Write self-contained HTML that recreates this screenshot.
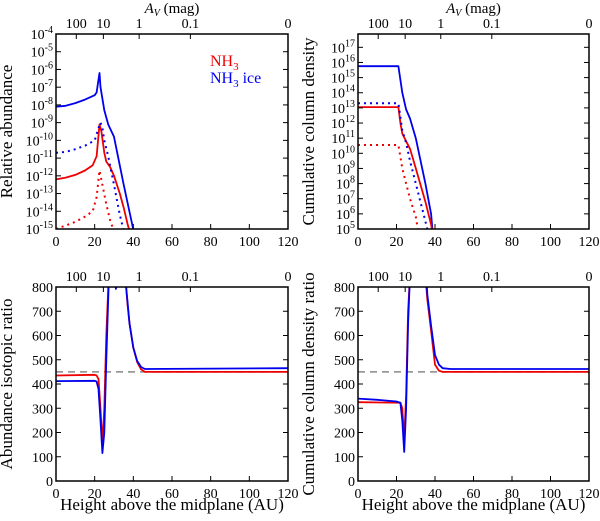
<!DOCTYPE html>
<html><head><meta charset="utf-8"><style>
body{margin:0;background:#fff}
svg{font-family:"Liberation Serif","DejaVu Serif",serif}
</style></head><body>
<svg id="c" width="600" height="516" viewBox="0 0 600 516" xmlns="http://www.w3.org/2000/svg"></svg>
<script>
const xTicks=[0,20,40,60,80,100,120];
const avLabels=["100","10","1","0.1","0"];
const avPos=[10.5,24.5,43,69.5,120];
// Panel A: relative abundance (log10)
const aBlueX=[0,5,10,15,20,21,22.5,23,25,27,30,35,40.5];
const aBlueY=[-8.1,-8.05,-7.9,-7.7,-7.45,-7.3,-6.2,-7.0,-8.3,-9.1,-9.8,-12.5,-15.3];
const aRedX=[0,5,10,15,19,21,22.5,23.5,25,26,28,30,33,35,37,38.5];
const aRedY=[-12.2,-12.1,-11.95,-11.7,-11.4,-10.9,-9.1,-9.5,-10.7,-11.2,-11.5,-12,-13,-13.8,-14.7,-15.3];
const aBlueDX=[0,5,10,15,20,22,23,24,25,27,30,33,35.5];
const aBlueDY=[-10.7,-10.65,-10.5,-10.3,-10.0,-9.3,-9.0,-9.3,-10.0,-10.9,-12.5,-14.2,-15.3];
const aRedDX=[0,5,10,15,19,21,22.5,24,26,28,30.5];
const aRedDY=[-15,-14.8,-14.6,-14.3,-14.0,-13.2,-11.7,-12.5,-13.6,-14.5,-15.3];
// Panel B: cumulative column density (log10)
const bBlueX=[0,21,23,25,27,30,35,38,38.7];
const bBlueY=[15.75,15.75,14.0,12.9,12.3,11.0,8.0,6.0,4.9];
const bRedX=[0,21,22,23,25,27,30,35,38,38.5];
const bRedY=[13.05,13.05,12.0,11.3,10.8,10.3,9.0,6.8,5.3,4.9];
const bBlueDX=[0,21,23,25,27,30,35,36.2];
const bBlueDY=[13.3,13.3,11.5,10.7,9.5,8,5.5,4.9];
const bRedDX=[0,21,23,25,27,30,31.2];
const bRedDY=[10.55,10.55,9,8,7,5.8,4.9];
// Panel C: abundance isotopic ratio
const cRedX=[0,20,21,22,23,24,25,26,27.2,36,37,38,40,42,44,46,120];
const cRedY=[435,438,435,420,300,150,300,600,830,830,730,650,550,490,460,450,450];
const cBlueX=[0,20,21,22,23,24,25,26,27.3,30.5,31,31.5,35.8,36,37,38,40,42,44,46,120];
const cBlueY=[412,413,410,380,250,115,200,500,830,830,792,830,830,820,740,650,550,495,470,462,465];
// Panel D: cumulative column density ratio
const dRedX=[0,22,23,24,25,26,27,35,36,38,40,42,44,120];
const dRedY=[325,323,300,170,350,700,850,850,750,620,480,455,450,450];
const dBlueX=[0,10,20,22,23,24,25,26,27,35.5,36,38,40,42,44,48,120];
const dBlueY=[340,335,328,322,250,120,300,650,850,850,770,640,520,480,465,462,462];
const refRatio=[450];

const NS="http://www.w3.org/2000/svg";
const svg=document.getElementById('c');
function el(tag,attrs,parent){const e=document.createElementNS(NS,tag);for(const k in attrs)e.setAttribute(k,attrs[k]);(parent||svg).appendChild(e);return e;}

function panel(o){
  const g=el('g',{});
  
  
  const X=v=>o.x0+(v-0)/120*(o.x1-o.x0);
  const Y=v=>o.yb+(v-o.ymin)/(o.ymax-o.ymin)*(o.yt-o.yb);
  const cid='clip-'+o.name;
  const cp=el('clipPath',{id:cid},g);
  el('rect',{x:o.x0,y:o.yt,width:o.x1-o.x0,height:o.yb-o.yt},cp);
  const pg=el('g',{'clip-path':'url(#'+cid+')'},g);
  if(o.ref!==undefined){
    const r=el('line',{x1:X(0),x2:X(120),y1:Y(o.ref),y2:Y(o.ref),stroke:'#888','stroke-width':1.5,'stroke-dasharray':'7,5'},pg);
    
    
  }
  o.series.forEach(s=>{
    const d=s.x.map((v,i)=>(i?'L':'M')+X(v).toFixed(1)+','+Y(s.y[i]).toFixed(1)).join('');
    const p=el('path',{d:d,fill:'none',stroke:s.c,'stroke-width':s.dot?2:1.8,'stroke-dasharray':s.dot?'2,4':'none','stroke-linejoin':'round'},pg);
    
    
  });
  el('rect',{x:o.x0,y:o.yt,width:o.x1-o.x0,height:o.yb-o.yt,fill:'none',stroke:'#000','stroke-width':1.5},g);
  xTicks.forEach(t=>{
    el('line',{x1:X(t),x2:X(t),y1:o.yb,y2:o.yb-5,stroke:'#000'},g);
    const tx=el('text',{x:X(t),y:o.yb+17,'text-anchor':'middle','font-size':14},g);tx.textContent=t;
    
    
  });
  avPos.forEach((t,i)=>{
    el('line',{x1:X(t),x2:X(t),y1:o.yt,y2:o.yt+5,stroke:'#000'},g);
    const tx=el('text',{x:X(t),y:o.yt-6,'text-anchor':'middle','font-size':14},g);tx.textContent=avLabels[i];
    
    
  });
  o.yticks.forEach((t,i)=>{
    el('line',{x1:o.x0,x2:o.x0+5,y1:Y(t),y2:Y(t),stroke:'#000'},g);
    el('line',{x1:o.x1,x2:o.x1-5,y1:Y(t),y2:Y(t),stroke:'#000'},g);
    const tx=el('text',{x:o.x0-3,y:Y(t)+5,'text-anchor':'end','font-size':14},g);
    
    
    if(o.log){tx.textContent='10';const sp=el('tspan',{dy:-6,'font-size':10},tx);sp.textContent=t;}
    else tx.textContent=t;
  });
  const yl=el('text',{x:0,y:0,transform:`translate(${o.x0-44},${(o.yt+o.yb)/2}) rotate(-90)`,'text-anchor':'middle','font-size':17},g);
  yl.textContent=o.ylabel;
  
  
  if(o.top){
    const t=el('text',{x:(o.x0+o.x1)/2,y:13,'text-anchor':'middle','font-size':15},g);
    const a=el('tspan',{'font-style':'italic'},t);a.textContent='A';
    const v=el('tspan',{'font-style':'italic','font-size':10,dy:3},t);v.textContent='V';
    const m=el('tspan',{dy:-3},t);m.textContent=' (mag)';
    
    
  } else {
    const t=el('text',{x:(o.x0+o.x1)/2,y:510,'text-anchor':'middle','font-size':17},g);
    t.textContent='Height above the midplane (AU)';
    
    
  }
  return g;
}
const logT=(a,b)=>{const r=[];for(let i=a;i<=b;i++)r.push(i);return r;};
panel({name:'panel-relative-abundance',x0:56,x1:288,yt:34,yb:229,ymin:-15,ymax:-4,log:true,yticks:logT(-15,-4),ylabel:'Relative abundance',top:true,
 series:[{x:aBlueX,y:aBlueY,c:'#0000ee',n:'nh3-ice-abundance'},{x:aRedX,y:aRedY,c:'#ee0000',n:'nh3-abundance'},
 {x:aBlueDX,y:aBlueDY,c:'#0000ee',dot:1,n:'nh3-ice-abundance-isotopologue'},{x:aRedDX,y:aRedDY,c:'#ee0000',dot:1,n:'nh3-abundance-isotopologue'}]});
panel({name:'panel-column-density',x0:358,x1:589,yt:34,yb:229,ymin:5,ymax:17.88,log:true,yticks:logT(5,17),ylabel:'Cumulative column density',top:true,
 series:[{x:bBlueX,y:bBlueY,c:'#0000ee',n:'nh3-ice-column'},{x:bRedX,y:bRedY,c:'#ee0000',n:'nh3-column'},
 {x:bBlueDX,y:bBlueDY,c:'#0000ee',dot:1,n:'nh3-ice-column-isotopologue'},{x:bRedDX,y:bRedDY,c:'#ee0000',dot:1,n:'nh3-column-isotopologue'}]});
panel({name:'panel-abundance-ratio',x0:56,x1:288,yt:287,yb:481,ymin:0,ymax:800,yticks:[0,100,200,300,400,500,600,700,800],ylabel:'Abundance isotopic ratio',ref:refRatio[0],
 series:[{x:cRedX,y:cRedY,c:'#ee0000',n:'nh3-ratio'},{x:cBlueX,y:cBlueY,c:'#0000ee',n:'nh3-ice-ratio'}]});
panel({name:'panel-column-ratio',x0:358,x1:589,yt:287,yb:481,ymin:0,ymax:800,yticks:[0,100,200,300,400,500,600,700,800],ylabel:'Cumulative column density ratio',ref:refRatio[0],
 series:[{x:dRedX,y:dRedY,c:'#ee0000',n:'nh3-column-ratio'},{x:dBlueX,y:dBlueY,c:'#0000ee',n:'nh3-ice-column-ratio'}]});
const l1=el('text',{x:210,y:66,fill:'#ee0000','font-size':16});


l1.appendChild(document.createTextNode('NH'));
let s=el('tspan',{dy:4,'font-size':11},l1);s.textContent='3';
const l2=el('text',{x:210,y:83,fill:'#0000ee','font-size':16});


l2.appendChild(document.createTextNode('NH'));
s=el('tspan',{dy:4,'font-size':11},l2);s.textContent='3';
s=el('tspan',{dy:-4},l2);s.textContent=' ice';
</script>
</body></html>
